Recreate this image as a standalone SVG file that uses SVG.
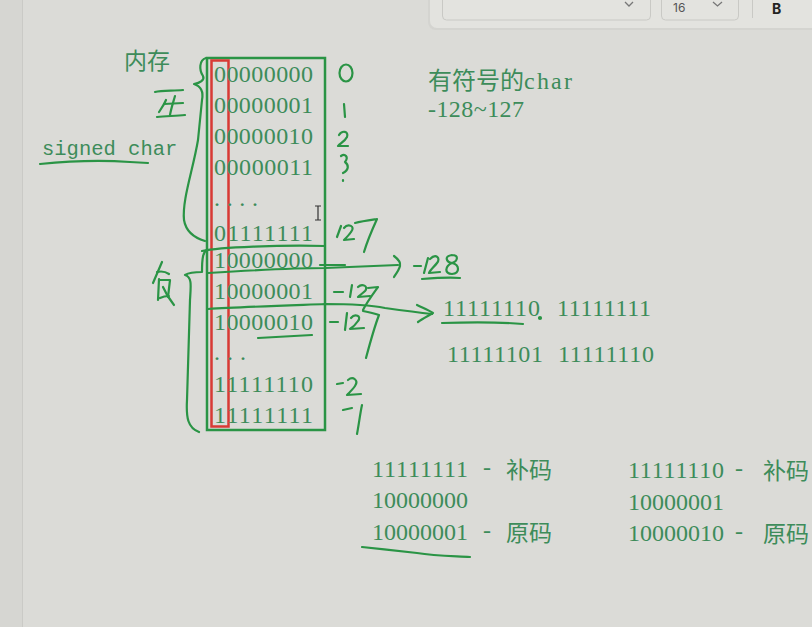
<svg xmlns="http://www.w3.org/2000/svg" width="812" height="627" viewBox="0 0 812 627">
<style>
.t{font-family:"Liberation Serif","Noto Sans CJK SC",serif;font-size:24px;fill:#3d8c5a}
.cn{font-family:"Noto Sans CJK SC",sans-serif;font-size:23px;fill:#3d8c5a}
.hw{fill:none;stroke:#2a9445;stroke-width:2.2;stroke-linecap:round;stroke-linejoin:round}
.ui{fill:none;stroke:#c9c9c5;stroke-width:1}
</style>
<rect x="0" y="0" width="812" height="627" fill="#dbdbd7"/>
<rect x="0" y="0" width="22" height="627" fill="#d6d6d2"/>
<line x1="22.5" y1="0" x2="22.5" y2="627" stroke="#cacac6"/>
<!-- toolbar -->
<g id="toolbar">
<rect x="428" y="-10" width="400" height="40" rx="8" fill="#cfcfcb" opacity="0.6"/>
<rect x="430" y="-10" width="400" height="38" rx="7" fill="#e3e3df"/>
<rect x="442.5" y="-10" width="208" height="30" rx="4" fill="#e6e6e2" class="ui"/>
<path d="M625 2 L629 6 L633 2" fill="none" stroke="#777" stroke-width="1.3"/>
<rect x="661.5" y="-10" width="77" height="30" rx="4" fill="#e6e6e2" class="ui"/>
<text x="673" y="12" font-family="Inter,'Liberation Sans',sans-serif" font-size="12" fill="#555">16</text>
<path d="M713 2 L717.5 6 L722 2" fill="none" stroke="#777" stroke-width="1.3"/>
<line x1="752.5" y1="0" x2="752.5" y2="18" stroke="#c9c9c5"/>
<text x="772" y="14" font-family="Inter,'Liberation Sans',sans-serif" font-size="14" font-weight="bold" fill="#222">B</text>
</g>
<!-- labels -->
<text class="cn" x="124" y="69">内存</text>
<text x="42" y="155" font-family="'Liberation Mono',monospace" font-size="20.5" fill="#3d8c5a">signed char</text>
<path class="hw" d="M40 164 C70 161 100 160 130 162 L148 163"/>
<!-- memory box -->
<g id="memory">
<rect x="207" y="58" width="118" height="372" fill="none" stroke="#2a9445" stroke-width="2.5"/>
<rect x="211.5" y="60.5" width="17" height="366" fill="none" stroke="#d83a35" stroke-width="2.5"/>
<g class="t">
<text x="214" y="82" textLength="99">00000000</text>
<text x="214" y="113" textLength="99">00000001</text>
<text x="214" y="144" textLength="99">00000010</text>
<text x="214" y="175" textLength="99">00000011</text>
<text x="214" y="206" textLength="44">....</text>
<text x="214" y="241" textLength="99">01111111</text>
<text x="214" y="268" textLength="99">10000000</text>
<text x="214" y="299" textLength="99">10000001</text>
<text x="214" y="330" textLength="99">10000010</text>
<text x="214" y="360" textLength="32">...</text>
<text x="214" y="392" textLength="99">11111110</text>
<text x="214" y="423" textLength="99">11111111</text>
</g>
<path d="M315 206 L321 206 M318 206 L318 220 M315 220 L321 220" stroke="#333" stroke-width="1.2" fill="none"/>
</g>
<!-- right text -->
<g id="notes" class="t">
<text x="428" y="89" font-family="'Noto Sans CJK SC',sans-serif" font-size="24">有符号的<tspan font-family="'Liberation Serif',serif" font-size="24" textLength="48">char</tspan></text>
<text x="428" y="117" textLength="96">-128~127</text>
<text x="443" y="316" textLength="97">11111110</text>
<text x="557" y="316" textLength="94">11111111</text>
<text x="447" y="362" textLength="96">11111101</text>
<text x="558" y="362" textLength="96">11111110</text>
<text x="372" y="477" textLength="96">11111111</text>
<text x="483" y="475">-</text>
<text class="cn" x="506" y="478">补码</text>
<text x="372" y="508" textLength="96">10000000</text>
<text x="372" y="540" textLength="96">10000001</text>
<text x="483" y="538">-</text>
<text class="cn" x="506" y="541">原码</text>
<text x="628" y="478" textLength="96">11111110</text>
<text x="735" y="476">-</text>
<text class="cn" x="763" y="479">补码</text>
<text x="628" y="510" textLength="96">10000001</text>
<text x="628" y="541" textLength="96">10000010</text>
<text x="735" y="539">-</text>
<text class="cn" x="763" y="542">原码</text>
</g>
<!-- handwriting -->
<g id="connectors" class="hw">
<!-- 正 -->
<path d="M155 92 C162 90 172 91 183 90"/>
<path d="M175 96 C173 103 171 109 170 115"/>
<path d="M166 100 C164 105 161 109 159 112"/>
<path d="M164 104 L183 103"/>
<path d="M157 117 C166 116 175 116 185 115"/>
<!-- 负 -->
<path d="M162 262 C159 269 156 276 153 283"/>
<path d="M157 272 C161 271 166 272 169 274"/>
<path d="M159 279 L158 300 M159 280 L170 280 L168 297 M160 298 C164 296 167 296 169 296"/>
<path d="M163 287 C166 294 170 300 174 305"/>
<!-- braces -->
<path d="M206 58 C199 60 199 70 203 76 C205 80 200 83 194 84 C200 86 204 90 202 100 L198 140 C193 170 182 200 184 220 C186 232 195 238 205 241"/>
<path d="M207 250 C203 252 202 258 202 272 C196 272 190 272 185 275 C192 277 191 285 190 300 L187 400 C186 418 188 428 199 432"/>
<path d="M202 251 C220 247 280 245 325 246"/>
<!-- line to -128 -->
<path d="M208 273 C240 271 300 268 325 268 C350 267 375 266 398 265"/>
<path d="M394 256 C398 259 401 262 400 266 C399 270 396 274 394 277"/>
<path d="M414 266 L421 266"/>
<path d="M428 258 L424 273"/>
<path d="M430 259 C436 253 441 258 437 263 C434 267 430 270 429 273 L440 272"/>
<path d="M452 255 C444 256 446 262 452 263 C460 265 460 273 452 274 C444 274 445 266 452 263 C458 261 459 255 452 255"/>
<path d="M422 279 C435 278 448 277 460 278"/>
<!-- line to 11111110 -->
<path d="M208 309 C240 307 300 305 325 304 C350 304 370 305 385 308 C400 310 415 312 432 314"/>
<path d="M417 305 C423 308 428 310 433 313 C428 316 422 319 418 322"/>
<path d="M442 323 C470 322 500 322 523 324"/>
<circle cx="540" cy="318" r="1" fill="#2a9445"/>
<!-- underline in box -->
<path d="M258 338 C275 337 295 336 312 335"/>
<!-- numbers -->
<ellipse cx="346" cy="73" rx="6.5" ry="8.5"/>
<path d="M344 104 L345 117"/>
<path d="M339 135 C342 130 349 131 347 137 C345 141 341 143 338 146 L348 146"/>
<path d="M341 156 C345 153 349 157 345 162 C349 165 349 170 343 173 M343 180 L343 181"/>
<path d="M341 226 L337 237"/>
<path d="M344 228 C348 223 356 226 351 232 C349 235 346 238 344 240 L354 239"/>
<path d="M355 223 C362 221 370 220 377 219 C372 230 367 242 364 252"/>
<path d="M320 265 L345 265"/>
<path d="M334 292 L343 292"/>
<path d="M352 285 L350 297"/>
<path d="M358 287 C362 283 369 286 365 291 C363 293 360 295 358 297 L370 296"/>
<path d="M368 288 L378 287 C373 294 367 302 363 310"/>
<path d="M330 322 L338 322"/>
<path d="M347 313 L345 330"/>
<path d="M351 318 C355 313 362 316 358 321 C356 324 353 327 350 329 L364 328"/>
<path d="M363 311 C368 312 373 313 379 315 C374 328 370 343 366 358"/>
<path d="M337 384 L343 383"/>
<path d="M348 380 C353 376 359 380 355 386 C353 389 350 392 347 395 L361 394"/>
<path d="M343 410 L352 408"/>
<path d="M362 405 C360 414 359 424 357 434"/>
<!-- bottom underline -->
<path d="M362 547 C380 549 400 551 417 553 C435 556 452 556 470 557"/>
</g>
</svg>
